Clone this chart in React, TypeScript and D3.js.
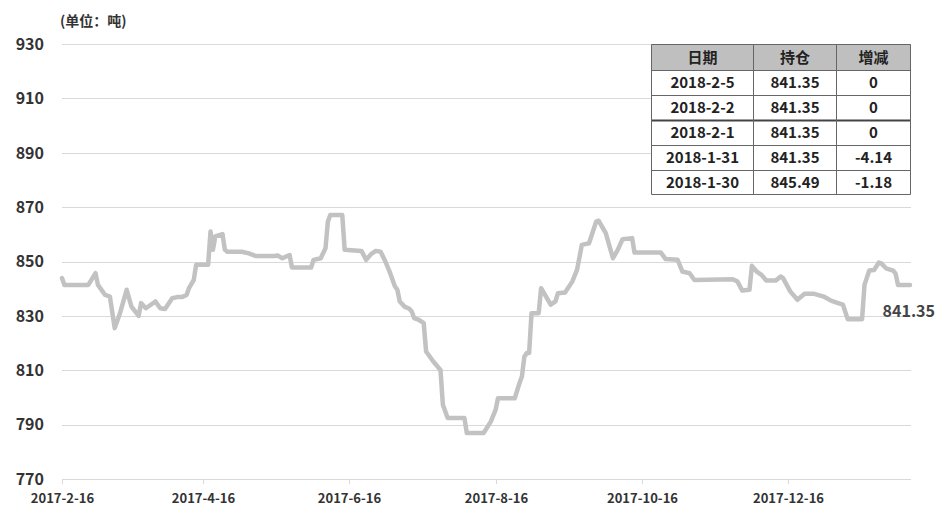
import React from "react";
import * as d3 from "d3";

const dates: string[] = [
  "2017-02-16","2017-02-17","2017-02-27","2017-03-02","2017-03-03","2017-03-06","2017-03-08","2017-03-10","2017-03-12","2017-03-15",
  "2017-03-17","2017-03-20","2017-03-21","2017-03-23","2017-03-27","2017-03-29","2017-03-31","2017-04-03","2017-04-05","2017-04-07",
  "2017-04-09","2017-04-10","2017-04-12","2017-04-13","2017-04-18","2017-04-19","2017-04-20","2017-04-21","2017-04-24","2017-04-25",
  "2017-04-26","2017-05-02","2017-05-05","2017-05-08","2017-05-16","2017-05-17","2017-05-19","2017-05-22","2017-05-23","2017-05-31",
  "2017-06-01","2017-06-04","2017-06-06","2017-06-07","2017-06-08","2017-06-13","2017-06-14","2017-06-21","2017-06-23","2017-06-25",
  "2017-06-27","2017-06-29","2017-07-01","2017-07-03","2017-07-05","2017-07-06","2017-07-07","2017-07-09","2017-07-11","2017-07-12",
  "2017-07-13","2017-07-15","2017-07-17","2017-07-18","2017-07-21","2017-07-24","2017-07-25","2017-07-27","2017-08-03","2017-08-04",
  "2017-08-11","2017-08-14","2017-08-16","2017-08-17","2017-08-24","2017-08-26","2017-08-27","2017-08-28","2017-08-29","2017-08-30",
  "2017-08-31","2017-09-03","2017-09-04","2017-09-08","2017-09-10","2017-09-11","2017-09-14","2017-09-17","2017-09-19","2017-09-21",
  "2017-09-24","2017-09-27","2017-09-28","2017-10-01","2017-10-03","2017-10-04","2017-10-06","2017-10-08","2017-10-12","2017-10-13",
  "2017-10-24","2017-10-26","2017-10-31","2017-11-02","2017-11-05","2017-11-07","2017-11-23","2017-11-25","2017-11-27","2017-11-30",
  "2017-12-01","2017-12-03","2017-12-05","2017-12-07","2017-12-11","2017-12-13","2017-12-14","2017-12-17","2017-12-20","2017-12-23",
  "2017-12-27","2017-12-31","2018-01-03","2018-01-06","2018-01-08","2018-01-10","2018-01-16","2018-01-17","2018-01-19","2018-01-21",
  "2018-01-23","2018-01-24","2018-01-26","2018-01-29","2018-01-30","2018-01-31","2018-02-01","2018-02-02","2018-02-05",
];

const holdings: number[] = [
  843.9,841.4,841.4,845.7,841.4,837.7,837.1,825.5,830.4,839.6,
  833.4,830.0,834.7,832.8,835.3,832.8,832.5,836.5,836.9,836.9,
  837.7,840.2,843.2,848.8,848.8,861.0,854.3,859.2,860.1,854.3,
  853.6,853.6,853.0,852.0,852.0,852.2,851.2,852.4,847.8,847.8,
  850.6,851.2,854.9,864.7,867.1,867.1,854.3,853.9,850.6,852.7,
  853.9,853.6,850.0,845.7,840.8,839.6,835.3,833.4,832.6,831.6,
  829.2,828.5,827.3,816.9,813.2,810.1,797.3,792.4,792.4,786.9,
  786.9,791.1,795.4,799.7,799.7,805.3,807.7,815.0,816.3,816.3,
  831.0,831.0,840.2,834.1,835.3,838.3,838.6,842.6,846.9,856.1,
  856.7,864.7,865.0,860.4,854.3,851.2,854.3,858.2,858.6,853.3,
  853.3,850.9,850.6,846.3,845.7,843.2,843.5,842.6,839.3,839.6,
  848.4,846.3,845.1,843.0,843.0,844.5,843.9,839.0,835.9,838.1,
  838.1,837.1,835.6,834.7,834.1,828.8,828.8,841.4,846.7,846.9,
  849.6,849.3,847.5,846.67,845.49,841.35,841.35,841.35,841.35,
];

const yTicks: number[] = [770, 790, 810, 830, 850, 870, 890, 910, 930];
const xTickDates: string[] = ["2017-02-16","2017-04-16","2017-06-16","2017-08-16","2017-10-16","2017-12-16"];
const xTickLabels: string[] = ["2017-2-16","2017-4-16","2017-6-16","2017-8-16","2017-10-16","2017-12-16"];

const tableHeader: string[] = ["日期", "持仓", "增减"];
const tableDates: string[] = ["2018-2-5", "2018-2-2", "2018-2-1", "2018-1-31", "2018-1-30"];
const tableHold: string[] = ["841.35", "841.35", "841.35", "841.35", "845.49"];
const tableChange: string[] = ["0", "0", "0", "-4.14", "-1.18"];

const unitLabel = "(单位：吨)";
const lastLabel = "841.35";

const W = 950, H = 519;
const FONT = "'Noto Sans CJK SC', 'Microsoft YaHei', sans-serif";

export default function App() {
  const parse = d3.timeParse("%Y-%m-%d");
  const data = dates.map((d, i) => ({ date: parse(d) as Date, value: holdings[i] }));
  const x = d3.scaleTime()
    .domain([parse("2017-02-16") as Date, parse("2018-02-05") as Date])
    .range([62, 910]);
  const y = d3.scaleLinear().domain([770, 930]).range([479, 44]);
  const line = d3.line<{ date: Date; value: number }>()
    .x((d) => x(d.date))
    .y((d) => y(d.value))
    .curve(d3.curveLinear);

  const colX = [651.5, 753.5, 836.5, 910.5];
  const rowY = [44.5, 70.5, 95.5, 120.5, 145.5, 170.5, 194.5];
  const rows = tableDates.map((d, i) => [d, tableHold[i], tableChange[i]]);

  return (
    <svg width={W} height={H} style={{ position: "absolute", left: 0, top: 0, background: "#fff" }} fontFamily={FONT}>
      <rect x={0} y={0} width={W} height={H} fill="#fff" />
      <text x={60} y={26} fontSize={14} fontWeight="bold" fill="#333">{unitLabel}</text>
      {yTicks.map((t) => (
        <g key={t}>
          <line x1={62} x2={911} y1={Math.round(y(t)) + 0.5} y2={Math.round(y(t)) + 0.5} stroke="#d9d9d9" strokeWidth={1} />
          <text x={44} y={y(t)} dy="0.36em" textAnchor="end" fontSize={16} fontWeight="bold" fill="#333">{t}</text>
        </g>
      ))}
      {xTickDates.map((d, i) => {
        const px = Math.round(x(parse(d) as Date)) + 0.5;
        return (
          <g key={d}>
            <line x1={px} x2={px} y1={479} y2={484} stroke="#d9d9d9" strokeWidth={1} />
            <text x={px} y={503} textAnchor="middle" fontSize={13} fontWeight="bold" fill="#333">{xTickLabels[i]}</text>
          </g>
        );
      })}
      <path d={line(data) || ""} fill="none" stroke="#c2c2c2" strokeWidth={4.5} strokeLinejoin="round" strokeLinecap="round" />
      <text x={935} y={317} textAnchor="end" fontSize={16} fontWeight="bold" fill="#444">{lastLabel}</text>

      <g>
        <rect x={colX[0]} y={rowY[0]} width={colX[3] - colX[0]} height={rowY[1] - rowY[0]} fill="#bfbfbf" />
        <rect x={colX[0]} y={rowY[1]} width={colX[3] - colX[0]} height={rowY[6] - rowY[1]} fill="#fff" />
        {rowY.map((ry, i) => (
          <line key={"r" + i} x1={colX[0]} x2={colX[3]} y1={ry} y2={ry} stroke={i === 3 ? "#444" : "#666"} strokeWidth={i === 3 ? 2 : 1} />
        ))}
        {colX.map((cx, i) => (
          <line key={"c" + i} x1={cx} x2={cx} y1={rowY[0]} y2={rowY[6]} stroke="#666" strokeWidth={1} />
        ))}
        {tableHeader.map((h, j) => (
          <text key={"h" + j} x={(colX[j] + colX[j + 1]) / 2} y={(rowY[0] + rowY[1]) / 2} dy="0.36em" textAnchor="middle" fontSize={15} fontWeight="bold" fill="#222">{h}</text>
        ))}
        {rows.map((r, i) => r.map((c, j) => (
          <text key={i + "-" + j} x={(colX[j] + colX[j + 1]) / 2} y={(rowY[i + 1] + rowY[i + 2]) / 2} dy="0.36em" textAnchor="middle" fontSize={15} fontWeight="bold" fill="#222">{c}</text>
        )))}
      </g>
    </svg>
  );
}
